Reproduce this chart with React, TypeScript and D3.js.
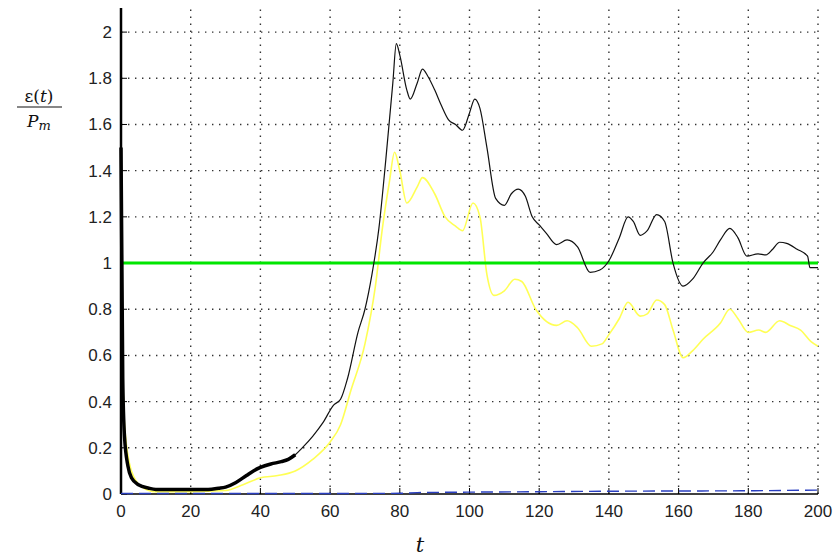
import React from "react";
import * as d3 from "d3";

// epsilon(t)/Pm
const blackT = [0, 0.5, 1, 2, 3, 5, 8, 10, 15, 20, 25, 28, 30, 33, 36, 38, 40, 43, 46, 48, 50, 52, 55, 58, 61, 63, 65, 68, 70, 72, 74, 76, 78, 79, 80, 82, 83, 85, 86.5, 88, 90, 92, 94, 96, 98, 100, 101.5, 103, 105, 107.5, 110, 112, 114, 116, 118, 120, 122, 125, 128, 131, 134.6, 137.4, 140, 143, 145.5, 147, 149, 151, 153.7, 156, 158.4, 161.3, 164, 167, 170, 172, 174.7, 177, 179.6, 182.8, 185, 187, 189, 191, 194, 197, 197.7, 200];
const blackV = [1.5, 0.5, 0.25, 0.12, 0.07, 0.04, 0.025, 0.02, 0.02, 0.02, 0.02, 0.025, 0.03, 0.05, 0.08, 0.1, 0.115, 0.13, 0.14, 0.15, 0.17, 0.2, 0.25, 0.31, 0.385, 0.41, 0.5, 0.7, 0.8, 0.95, 1.15, 1.45, 1.78, 1.95, 1.9, 1.75, 1.71, 1.78, 1.84, 1.81, 1.75, 1.68, 1.62, 1.6, 1.575, 1.65, 1.71, 1.67, 1.5, 1.28, 1.25, 1.3, 1.32, 1.29, 1.2, 1.165, 1.13, 1.08, 1.1, 1.07, 0.96, 0.97, 1.01, 1.11, 1.2, 1.18, 1.12, 1.14, 1.21, 1.18, 1.0, 0.9, 0.93, 1.0, 1.05, 1.1, 1.15, 1.11, 1.03, 1.04, 1.035, 1.06, 1.09, 1.085, 1.06, 1.03, 0.98, 0.98];

const yellowT = [0, 1, 3, 6, 10, 20, 30, 35, 40, 45, 50, 55, 60, 63, 66, 70, 73, 75, 77, 78.5, 80, 82, 85, 86.5, 90, 93, 96, 98, 101, 103, 105, 107, 110, 113, 115, 119, 125, 128, 131, 135, 138, 140, 143, 145.5, 149, 151, 153.7, 156, 158.4, 161.3, 164, 167, 172, 174.7, 177, 180, 183, 185, 189, 192, 195, 198, 200];
const yellowV = [0.85, 0.3, 0.1, 0.03, 0.01, 0.01, 0.015, 0.04, 0.07, 0.08, 0.1, 0.15, 0.225, 0.3, 0.45, 0.65, 0.9, 1.15, 1.35, 1.48, 1.4, 1.26, 1.33, 1.37, 1.3, 1.2, 1.16, 1.14, 1.26, 1.2, 0.95, 0.86, 0.88, 0.93, 0.92, 0.8, 0.73, 0.75, 0.72, 0.64, 0.65, 0.69, 0.76, 0.83, 0.77, 0.78, 0.84, 0.82, 0.71, 0.59, 0.62, 0.67, 0.74, 0.8, 0.76, 0.7, 0.71, 0.7, 0.75, 0.73, 0.71, 0.66, 0.64];

const blueT = [0, 40, 80, 85, 100, 120, 140, 160, 180, 200];
const blueV = [0.002, 0.002, 0.003, 0.006, 0.008, 0.01, 0.012, 0.013, 0.014, 0.017];

const xTicks = [0, 20, 40, 60, 80, 100, 120, 140, 160, 180, 200];
const yTicks = [0, 0.2, 0.4, 0.6, 0.8, 1, 1.2, 1.4, 1.6, 1.8, 2];
const thickUntil = 50;
const refLevel = 1;

const W = 836;
const H = 557;
const left = 121;
const right = 818;
const bottom = 494;
const top = 9;

type Pt = [number, number];

export default function App() {
  const x = d3.scaleLinear().domain([0, 200]).range([left, right]);
  const y = d3.scaleLinear().domain([0, 2.1]).range([bottom, top]);
  const line = d3
    .line<Pt>()
    .x((d) => x(d[0]))
    .y((d) => y(d[1]))
    .curve(d3.curveMonotoneX);

  const black: Pt[] = blackT.map((t, i) => [t, blackV[i]]);
  const blackThick = black.filter((d) => d[0] <= thickUntil);
  const yellow: Pt[] = yellowT.map((t, i) => [t, yellowV[i]]);
  const blue: Pt[] = blueT.map((t, i) => [t, blueV[i]]);

  const font = "'Liberation Sans', Arial, sans-serif";

  return (
    <svg
      width={W}
      height={H}
      style={{ position: "absolute", left: 0, top: 0, background: "#fff" }}
    >
      {/* grid */}
      {xTicks.slice(1).map((t) => (
        <line key={"gx" + t} x1={x(t)} x2={x(t)} y1={bottom} y2={top}
          stroke="#333" strokeWidth={1.4} strokeDasharray="1.4,5.6" />
      ))}
      {yTicks.slice(1).map((v) => (
        <line key={"gy" + v} x1={left} x2={right} y1={y(v)} y2={y(v)}
          stroke="#333" strokeWidth={1.4} strokeDasharray="1.4,5.6" />
      ))}

      {/* tick marks */}
      {xTicks.map((t) => (
        <line key={"tx" + t} x1={x(t)} x2={x(t)} y1={bottom} y2={bottom - 6} stroke="#000" />
      ))}
      {yTicks.map((v) => (
        <line key={"ty" + v} x1={left} x2={left + 6} y1={y(v)} y2={y(v)} stroke="#000" />
      ))}

      {/* curves */}
      <path d={line(yellow) || ""} fill="none" stroke="#ffff55" strokeWidth={1.6} />
      <line x1={left} x2={right} y1={y(refLevel)} y2={y(refLevel)} stroke="#00e600" strokeWidth={3} />
      <path d={line(black) || ""} fill="none" stroke="#111" strokeWidth={1.2} />
      <path d={line(blackThick) || ""} fill="none" stroke="#000" strokeWidth={3.5} />

      {/* axes */}
      <line x1={left} x2={right} y1={bottom} y2={bottom} stroke="#000" strokeWidth={1.5} />
      <line x1={left} x2={left} y1={bottom} y2={top - 1} stroke="#000" strokeWidth={2.5} />
      <path d={line(blue) || ""} fill="none" stroke="#2a3fc0" strokeWidth={1.4} strokeDasharray="12,6" />

      {xTicks.map((t) => (
        <text key={"lx" + t} x={x(t)} y={bottom + 23} textAnchor="middle"
          fontFamily={font} fontSize={17} fill="#222">{t}</text>
      ))}
      {yTicks.map((v) => (
        <text key={"ly" + v} x={left - 9} y={y(v) + 6} textAnchor="end"
          fontFamily={font} fontSize={17} fill="#222">{v}</text>
      ))}

      {/* axis titles */}
      <text x={420} y={552} textAnchor="middle" fontFamily="'DejaVu Serif', serif"
        fontStyle="italic" fontSize={21} fill="#111">t</text>
      <text x={39} y={102} textAnchor="middle" fontFamily="'DejaVu Serif', serif"
        fontSize={17} fill="#111">
        ε(<tspan fontStyle="italic">t</tspan>)
      </text>
      <line x1={17} x2={62} y1={107} y2={107} stroke="#111" strokeWidth={1.2} />
      <text x={39} y={127} textAnchor="middle" fontFamily="'DejaVu Serif', serif"
        fontStyle="italic" fontSize={17} fill="#111">
        P<tspan fontSize={13} dy={3}>m</tspan>
      </text>
    </svg>
  );
}
